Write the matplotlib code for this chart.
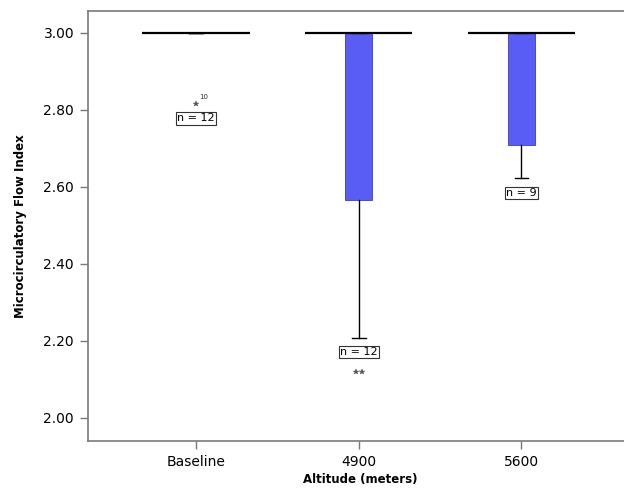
import matplotlib
matplotlib.use("Agg")
import matplotlib.pyplot as plt
import numpy as np

# === data ===
groups = ["Baseline", "4900", "5600"]
q1 = [3.00, 2.565, 2.709]
medians = [3.00, 3.00, 3.00]
q3 = [3.00, 3.00, 3.00]
whisk_lo = [3.00, 2.208, 2.623]
whisk_hi = [3.00, 3.00, 3.00]
outliers = [[2.815], [2.118, 2.118], []]
outlier_ids = [["10"], ["", ""], []]
n_counts = [12, 12, 9]
n_label_y = [2.778, 2.171, 2.585]
yticks = [2.00, 2.20, 2.40, 2.60, 2.80, 3.00]

BOX_COLOR = "#5a5cf6"
SPINE = "#7a7a7a"

plt.rcParams.update({
    "font.family": "DejaVu Sans",
    "xtick.labelsize": 10,
    "ytick.labelsize": 10,
})

fig = plt.figure(figsize=(6.24, 4.96), dpi=100)
# right spine sits just outside the picture, like the reference
ax = fig.add_axes([88 / 624, 55 / 496, 544 / 624, 430 / 496])

pos = np.arange(1, len(groups) + 1)
stats = []
for i, g in enumerate(groups):
    stats.append({
        "label": g, "q1": q1[i], "med": medians[i], "q3": q3[i],
        "whislo": whisk_lo[i], "whishi": whisk_hi[i], "fliers": [],
    })

ax.bxp(stats, positions=pos, widths=0.166, patch_artist=True, showfliers=False,
       boxprops=dict(facecolor=BOX_COLOR, edgecolor="#3c3dbb", linewidth=0.6),
       whiskerprops=dict(color="black", linewidth=1.0),
       capprops=dict(color="black", linewidth=1.0),
       medianprops=dict(linewidth=0))

# wide median line across each category
ax.hlines(medians, pos - 0.33, pos + 0.33, color="black", linewidth=1.6, zorder=4)

# extreme values
for i, vals in enumerate(outliers):
    if not vals:
        continue
    xs = pos[i] + (np.arange(len(vals)) - (len(vals) - 1) / 2) * 0.04
    ax.plot(xs, vals, linestyle="none", marker="*", markersize=4,
            color="#555555", markeredgewidth=0.3, zorder=5)
    for x, v, lab in zip(xs, vals, outlier_ids[i]):
        if lab:
            ax.text(x + 0.02, v + 0.012, lab, fontsize=5, color="#333333",
                    ha="left", va="bottom")

# n = .. labels
for i, n in enumerate(n_counts):
    ax.text(pos[i], n_label_y[i], f"n = {n}", fontsize=8, ha="center", va="center",
            bbox=dict(boxstyle="square,pad=0.1", facecolor="white",
                      edgecolor="#333333", linewidth=0.8), zorder=6)

ax.set_xlim(0.335, 3.68)
ax.set_ylim(1.940, 3.057)
ax.set_xticks(pos)
ax.set_xticklabels(groups)
ax.set_yticks(yticks)
ax.set_yticklabels([f"{t:.2f}" for t in yticks])

for s in ax.spines.values():
    s.set_color(SPINE)
    s.set_linewidth(1.2)
ax.tick_params(direction="out", length=6, width=1, color=SPINE, pad=4)

ax.set_xlabel("Altitude (meters)", fontsize=8.5, fontweight="bold", labelpad=3)
ax.set_ylabel("Microcirculatory Flow Index", fontsize=8.5, fontweight="bold", labelpad=12)

fig.savefig("out.png", dpi=100)
